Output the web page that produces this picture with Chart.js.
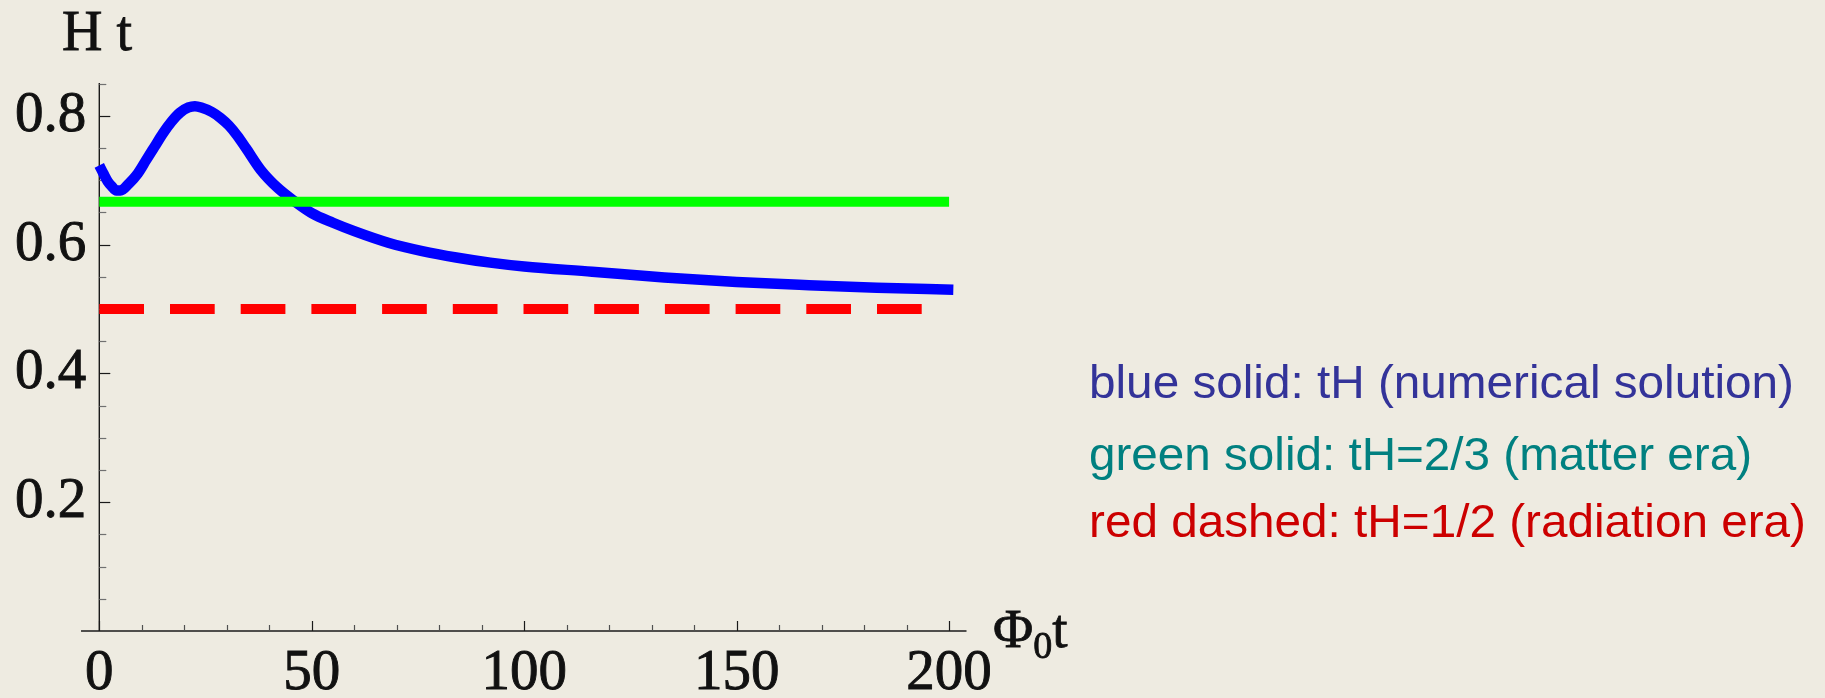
<!DOCTYPE html>
<html>
<head>
<meta charset="utf-8">
<script src="https://cdn.jsdelivr.net/npm/chart.js@4/dist/chart.umd.min.js"></script>
<style>
  body { margin: 0; background: #eeebe1; }
  #wrap { position: relative; width: 1825px; height: 698px; overflow: hidden; }
  canvas { position: absolute; left: 0; top: 0; }
  .lab { position: absolute; white-space: nowrap; line-height: 1; }
  .serif { font-family: "Liberation Serif", "Times New Roman", serif; color: #111; -webkit-text-stroke: 0.8px #111; }
  .sans { font-family: "Liberation Sans", Arial, sans-serif; transform-origin: 0 0; }
</style>
</head>
<body>
<div id="wrap">
  <canvas id="grafico" width="1825" height="698"></canvas>
  <div class="lab serif" id="yTitle" style="left:62px; top:3px; font-size:56px;">H t</div>
  <div class="lab serif" id="xTitle" style="left:993px; top:601px; font-size:55px;">Φ<span style="font-size:38px; position:relative; top:11px;">0</span>t</div>
  <div class="lab sans" id="leg1" style="left:1089px; top:359px; font-size:46px; color:#333399;">blue solid: tH (numerical solution)</div>
  <div class="lab sans" id="leg2" style="left:1089px; top:431px; font-size:46px; color:#008080;">green solid: tH=2/3 (matter era)</div>
  <div class="lab sans" id="leg3" style="left:1089px; top:498px; font-size:46px; color:#cc0000;">red dashed: tH=1/2 (radiation era)</div>
</div>
<script>
// Dados: tempo (Φ0 t) e H t numérico
var tempo = [0, 1, 2, 3, 4, 5, 7, 9, 11, 13, 15, 17, 19, 21, 22.5, 24, 26.5, 28.5, 30.5, 32.5, 34.5, 38, 42, 46, 50, 55, 60, 68, 76, 84, 92, 100, 116, 133, 150, 167, 183, 201];
var htNumerico = [0.723, 0.710, 0.698, 0.690, 0.684, 0.684, 0.695, 0.710, 0.731, 0.752, 0.773, 0.791, 0.805, 0.813, 0.815, 0.813, 0.806, 0.797, 0.785, 0.769, 0.750, 0.716, 0.688, 0.667, 0.649, 0.634, 0.621, 0.603, 0.590, 0.580, 0.572, 0.566, 0.558, 0.549, 0.542, 0.537, 0.533, 0.530];

// Retas de referência
var tempoMateria = [0, 200];
var htMateria = [2 / 3, 2 / 3];
var tempoRadiacao = [0, 199.5];
var htRadiacao = [0.5, 0.5];

// Rótulos dos eixos
var xTicks = [0, 50, 100, 150, 200];
var yTicks = [0.2, 0.4, 0.6, 0.8];
var xMinorStep = 10;
var yMinorStep = 0.05;
var xAxisStart = -4.3; // o eixo x passa um pouco à esquerda do zero

function pares(xs, ys) {
    return xs.map(function (x, i) { return { x: x, y: ys[i] }; });
}

// Plugin que desenha os eixos no estilo do Mathematica (ticks para dentro)
var eixosPlugin = {
    id: "eixos",
    beforeDatasetsDraw: function (chart) {
        var ctx = chart.ctx;
        var xs = chart.scales.x;
        var ys = chart.scales.y;
        var x0 = xs.getPixelForValue(0);
        var y0 = ys.getPixelForValue(0);
        ctx.save();
        ctx.lineCap = "butt";

        // eixo y
        ctx.strokeStyle = "#1a1a1a";
        ctx.lineWidth = 1.4;
        ctx.beginPath();
        ctx.moveTo(x0, ys.getPixelForValue(ys.max));
        ctx.lineTo(x0, y0);
        ctx.stroke();
        for (var v = yMinorStep; v <= ys.max + 1e-6; v += yMinorStep) {
            var major = yTicks.some(function (t) { return Math.abs(t - v) < 1e-6; });
            var py = Math.round(ys.getPixelForValue(v)) + 0.5;
            ctx.strokeStyle = major ? "#1a1a1a" : "#707070";
            ctx.lineWidth = 1.2;
            ctx.beginPath();
            ctx.moveTo(x0, py);
            ctx.lineTo(x0 + (major ? 11 : 7), py);
            ctx.stroke();
        }

        // eixo x
        ctx.strokeStyle = "#1a1a1a";
        ctx.lineWidth = 1.4;
        ctx.beginPath();
        ctx.moveTo(xs.getPixelForValue(xAxisStart), y0);
        ctx.lineTo(xs.getPixelForValue(xs.max), y0);
        ctx.stroke();
        for (var u = 0; u <= 200; u += xMinorStep) {
            var maj = xTicks.indexOf(u) !== -1;
            var px = Math.round(xs.getPixelForValue(u)) + 0.5;
            ctx.strokeStyle = maj ? "#1a1a1a" : "#505050";
            ctx.lineWidth = 1.2;
            ctx.beginPath();
            ctx.moveTo(px, y0);
            ctx.lineTo(px, y0 - (maj ? 10 : 6));
            ctx.stroke();
        }
        ctx.restore();
    }
};

function fixarEscala(tipo) {
    return function (scale) {
        if (tipo === "x") {
            scale.height = 67;
        } else {
            scale.width = 99.3;
        }
        scale.paddingTop = 0;
        scale.paddingBottom = 0;
        scale.paddingLeft = 0;
        scale.paddingRight = 0;
    };
}

function setupChart() {
    var el = document.getElementById("grafico");
    new Chart(el, {
        type: "line",
        data: {
            datasets: [
                {
                    label: "tH=2/3",
                    data: pares(tempoMateria, htMateria),
                    borderColor: "#00ff00",
                    borderWidth: 10,
                    borderCapStyle: "butt",
                    pointRadius: 0,
                    clip: false,
                    order: 1
                },
                {
                    label: "tH",
                    data: pares(tempo, htNumerico),
                    borderColor: "#0000ff",
                    borderWidth: 10.5,
                    borderCapStyle: "butt",
                    borderJoinStyle: "round",
                    cubicInterpolationMode: "monotone",
                    pointRadius: 0,
                    clip: false,
                    order: 2
                },
                {
                    label: "tH=1/2",
                    data: pares(tempoRadiacao, htRadiacao),
                    borderColor: "#ff0000",
                    borderWidth: 10,
                    borderDash: [44.7, 26],
                    borderCapStyle: "butt",
                    pointRadius: 0,
                    clip: false,
                    order: 3
                }
            ]
        },
        options: {
            responsive: false,
            animation: false,
            events: [],
            layout: { padding: { left: 0, right: 858.5, top: 83, bottom: 0 } },
            plugins: { legend: { display: false }, tooltip: { enabled: false } },
            scales: {
                x: {
                    type: "linear",
                    min: 0,
                    max: 204.1,
                    grid: { display: false, drawTicks: false },
                    border: { display: false },
                    afterBuildTicks: function (s) {
                        s.ticks = xTicks.map(function (v) { return { value: v }; });
                    },
                    afterFit: fixarEscala("x"),
                    ticks: {
                        autoSkip: false,
                        maxRotation: 0,
                        padding: 9,
                        color: "#111",
                        textStrokeColor: "#111",
                        textStrokeWidth: 0.9,
                        font: { family: "Liberation Serif", size: 57 },
                        callback: function (v) { return String(v); }
                    }
                },
                y: {
                    type: "linear",
                    min: 0,
                    max: 0.851,
                    grid: { display: false, drawTicks: false },
                    border: { display: false },
                    afterBuildTicks: function (s) {
                        s.ticks = yTicks.map(function (v) { return { value: v }; });
                    },
                    afterFit: fixarEscala("y"),
                    ticks: {
                        autoSkip: false,
                        padding: 13,
                        color: "#111",
                        textStrokeColor: "#111",
                        textStrokeWidth: 0.9,
                        font: { family: "Liberation Serif", size: 57 },
                        callback: function (v) { return v.toFixed(1); }
                    }
                }
            }
        },
        plugins: [eixosPlugin]
    });

    // Ajuste da largura das legendas (fonte condensada no original)
    [["leg1", 705], ["leg2", 663], ["leg3", 717]].forEach(function (p) {
        var d = document.getElementById(p[0]);
        var w = d.getBoundingClientRect().width;
        d.style.transform = "scaleX(" + (p[1] / w) + ")";
    });
}

window.addEventListener("load", setupChart);
</script>
</body>
</html>
